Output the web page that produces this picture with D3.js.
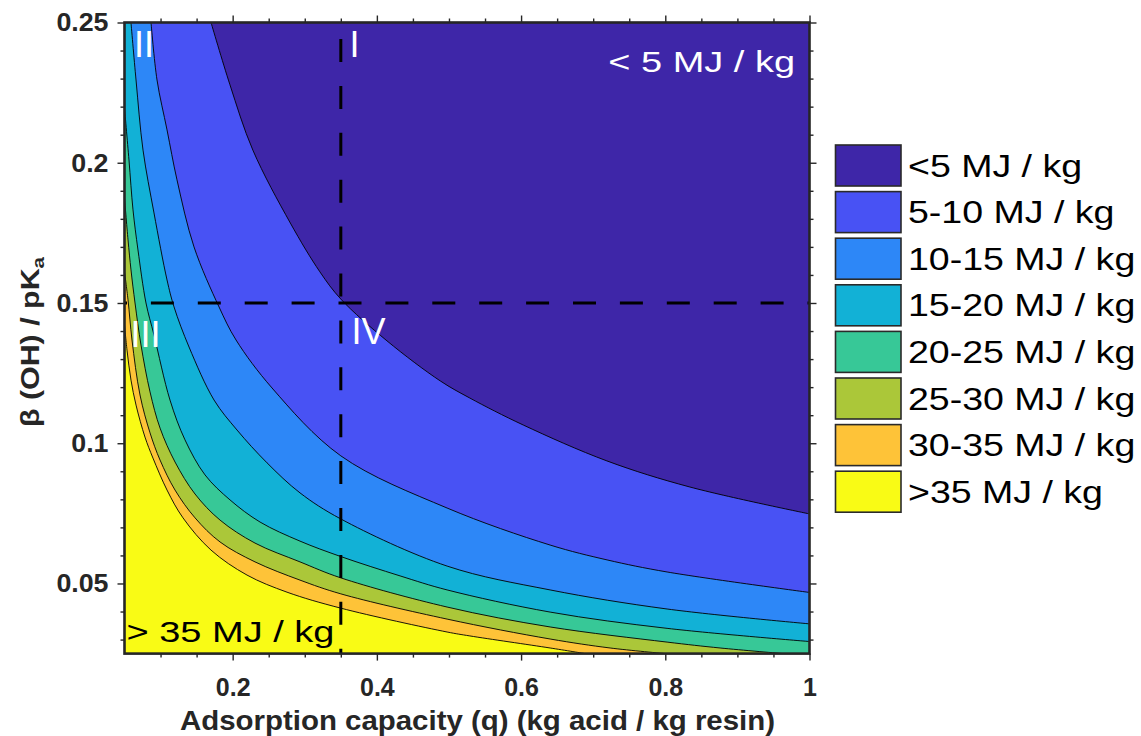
<!DOCTYPE html>
<html><head><meta charset="utf-8">
<script src="https://cdn.jsdelivr.net/npm/d3@7"></script>
<style>body{margin:0;background:#fff;} svg{display:block;font-family:"Liberation Sans",Arial,sans-serif;}</style>
</head><body><svg id="chart" width="1141" height="736"></svg>
<script>
// ---- data ----
const categories = ["<5 MJ / kg","5-10 MJ / kg","10-15 MJ / kg","15-20 MJ / kg","20-25 MJ / kg","25-30 MJ / kg","30-35 MJ / kg",">35 MJ / kg"];
const colors = ["#3e26a8","#4852f4","#2d87f7","#12b1d6","#37c897","#abc739","#fec338","#f9fb15"];
const levels = [5,10,15,20,25,30,35];
// contour boundaries: q (kg acid / kg resin) and beta/pKa
const b5q  = [0.170,0.196,0.228,0.280,0.321,0.350,0.414,0.488,0.529,0.603,0.719,0.834,1.000];
const b5b  = [0.250,0.228,0.2045,0.1785,0.1611,0.1514,0.1365,0.1222,0.1161,0.1065,0.0937,0.0844,0.0748];
const b10q = [0.0868,0.0951,0.109,0.1228,0.1464,0.1811,0.2047,0.2546,0.350,0.4974,0.6403,0.7193,0.8025,1.000];
const b10b = [0.250,0.2295,0.2117,0.1939,0.170,0.1486,0.1368,0.1197,0.0955,0.0769,0.0637,0.0584,0.0541,0.0468];
const b15q = [0.059,0.066,0.0757,0.0909,0.109,0.1187,0.1395,0.1742,0.2061,0.2477,0.2934,0.350,0.4974,0.6403,0.8025,1.000];
const b15b = [0.250,0.2295,0.2045,0.1821,0.1582,0.1486,0.1343,0.1154,0.1047,0.093,0.0823,0.073,0.0562,0.0477,0.0409,0.0356];
const b20q = [0.050,0.0562,0.0618,0.0687,0.0798,0.0909,0.1131,0.1339,0.1617,0.1963,0.238,0.2934,0.350,0.4322,0.4974,0.6403,0.8025,1.000];
const b20b = [0.2195,0.201,0.1832,0.1689,0.150,0.1386,0.1154,0.1012,0.0887,0.0798,0.0719,0.0651,0.0596,0.0527,0.0477,0.0398,0.034,0.0293];
const b25q = [0.050,0.0549,0.059,0.0646,0.0729,0.0854,0.0993,0.1201,0.1478,0.1825,0.231,0.2934,0.350,0.4974,0.6403,0.8025,0.876,0.9634];
const b25b = [0.1874,0.1725,0.1618,0.150,0.135,0.1183,0.1054,0.0933,0.0819,0.0726,0.0644,0.0577,0.052,0.0416,0.0345,0.0291,0.027,0.025];
const b30q = [0.050,0.0549,0.0604,0.0715,0.0854,0.0993,0.1201,0.1478,0.1825,0.231,0.2934,0.350,0.4974,0.6403,0.7235,0.7998];
const b30b = [0.1611,0.1511,0.1368,0.1172,0.1037,0.094,0.0833,0.0734,0.0648,0.0577,0.0512,0.0463,0.0373,0.0302,0.027,0.025];
const b35q = [0.050,0.0535,0.059,0.066,0.0784,0.0895,0.109,0.1311,0.170,0.2199,0.2754,0.350,0.4974,0.529,0.6403,0.6888];
const b35b = [0.1422,0.1332,0.1225,0.1136,0.1022,0.0947,0.0833,0.0734,0.0619,0.053,0.0469,0.0412,0.0327,0.0313,0.027,0.025];
const xMajorTicks = [0.2,0.4,0.6,0.8,1];
const xMinorTicks = [0.1,0.15,0.25,0.3,0.35,0.45,0.5,0.55,0.65,0.7,0.75,0.85,0.9,0.95];
const yMajorTicks = [0.05,0.1,0.15,0.2,0.25];
const yMinorTicks = [0.03,0.04,0.06,0.07,0.08,0.09,0.11,0.12,0.13,0.14,0.16,0.17,0.18,0.19,0.21,0.22,0.23,0.24];
const refQ = 0.35, refBeta = 0.15;
const xDomain = [0.05,1], yDomain = [0.025,0.25];

// ---- layout ----
const m = {l:124.5, r:809.5, t:22.5, b:653.6};
const x = d3.scaleLinear().domain(xDomain).range([m.l,m.r]);
const y = d3.scaleLinear().domain(yDomain).range([m.b,m.t]);
const svg = d3.select("#chart");
svg.append("defs").append("clipPath").attr("id","clip").append("rect")
  .attr("x",m.l).attr("y",m.t).attr("width",m.r-m.l).attr("height",m.b-m.t);
const plot = svg.append("g").attr("clip-path","url(#clip)");

const boundaries = [[b5q,b5b],[b10q,b10b],[b15q,b15b],[b20q,b20b],[b25q,b25b],[b30q,b30b],[b35q,b35b]]
  .map(([qs,bs],i)=>({level:levels[i], pts: qs.map((q,j)=>[q,bs[j]])}));
const line = d3.line().x(d=>x(d[0])).y(d=>y(d[1])).curve(d3.curveCatmullRom.alpha(0.5));
const E = 6;
function regionPath(pts){
  let p = line(pts);
  const first = pts[0], last = pts[pts.length-1];
  if (Math.abs(last[1]-yDomain[0])<1e-9) p += `L${x(last[0])},${m.b+E}L${m.r+E},${m.b+E}`;
  else p += `L${m.r+E},${y(last[1])}`;
  p += `L${m.r+E},${m.t-E}`;
  if (Math.abs(first[0]-xDomain[0])<1e-9) p += `L${m.l-E},${m.t-E}L${m.l-E},${y(first[1])}`;
  else p += `L${x(first[0])},${m.t-E}`;
  return p+"Z";
}
plot.append("rect").attr("x",m.l-E).attr("y",m.t-E).attr("width",m.r-m.l+2*E).attr("height",m.b-m.t+2*E).attr("fill",colors[7]);
for (let i=boundaries.length-1;i>=0;i--){
  plot.append("path").attr("d",regionPath(boundaries[i].pts)).attr("fill",colors[i]);
}
boundaries.forEach(bd=>{
  plot.append("path").attr("d",line(bd.pts)).attr("fill","none").attr("stroke","#000").attr("stroke-width",0.9);
});
// dashed reference lines
plot.append("line").attr("x1",x(refQ)).attr("x2",x(refQ)).attr("y1",y(yDomain[1])).attr("y2",y(yDomain[0]))
  .attr("stroke","#000").attr("stroke-width",3).attr("stroke-dasharray","23,23.9").attr("stroke-dashoffset",30.4);
plot.append("line").attr("x1",x(xDomain[0])).attr("x2",x(xDomain[1])).attr("y1",y(refBeta)).attr("y2",y(refBeta))
  .attr("stroke","#000").attr("stroke-width",3).attr("stroke-dasharray","23,23.9").attr("stroke-dashoffset",20.5);

function stretch(sel,f){ sel.each(function(){ const w=this.getComputedTextLength(); this.setAttribute("textLength",w*f); this.setAttribute("lengthAdjust","spacingAndGlyphs"); }); }

// region labels
const numerals = [["I",349.5,56.7],["II",134,56.7],["III",130.5,346.7],["IV",351.5,344]];
numerals.forEach(([t,px,py])=>{
  svg.append("text").attr("x",px).attr("y",py).attr("fill","#fff").style("font-size","36px").text(t);
});
stretch(svg.append("text").attr("x",795).attr("y",71.7).attr("text-anchor","end").attr("fill","#fff").style("font-size","30px").text("< 5 MJ / kg"),1.265);
stretch(svg.append("text").attr("x",126.5).attr("y",641.7).attr("fill","#000").style("font-size","30px").text("> 35 MJ / kg"),1.266);

// frame
svg.append("rect").attr("x",m.l).attr("y",m.t).attr("width",m.r-m.l).attr("height",m.b-m.t)
  .attr("fill","none").attr("stroke","#262626").attr("stroke-width",2.6);

// axes
const tc = "#262626";
function styleAxis(g){ g.select(".domain").remove(); g.selectAll("line").attr("stroke",tc).attr("stroke-width",1.4);
  g.selectAll("text").attr("fill",tc).style("font-size","26px").style("font-weight","bold").style("font-family","'Liberation Sans',Arial,sans-serif"); }
const fmt = d3.format("~g");
const gxb = svg.append("g").attr("transform",`translate(0,${m.b})`).call(d3.axisBottom(x).tickValues(xMajorTicks).tickSize(7).tickPadding(17).tickFormat(fmt)).call(styleAxis);
svg.append("g").attr("transform",`translate(0,${m.b})`).call(d3.axisBottom(x).tickValues(xMinorTicks).tickSize(4).tickFormat("")).call(styleAxis);
svg.append("g").attr("transform",`translate(0,${m.t})`).call(d3.axisTop(x).tickValues(xMajorTicks).tickSize(7).tickFormat("")).call(styleAxis);
svg.append("g").attr("transform",`translate(0,${m.t})`).call(d3.axisTop(x).tickValues(xMinorTicks).tickSize(4).tickFormat("")).call(styleAxis);
const gyl = svg.append("g").attr("transform",`translate(${m.l},0)`).call(d3.axisLeft(y).tickValues(yMajorTicks).tickSize(7).tickPadding(9).tickFormat(fmt)).call(styleAxis);
svg.append("g").attr("transform",`translate(${m.l},0)`).call(d3.axisLeft(y).tickValues(yMinorTicks).tickSize(4).tickFormat("")).call(styleAxis);
svg.append("g").attr("transform",`translate(${m.r},0)`).call(d3.axisRight(y).tickValues(yMajorTicks).tickSize(7).tickFormat("")).call(styleAxis);
svg.append("g").attr("transform",`translate(${m.r},0)`).call(d3.axisRight(y).tickValues(yMinorTicks).tickSize(4).tickFormat("")).call(styleAxis);
stretch(gxb.selectAll("text"),0.96);
stretch(gyl.selectAll("text"),1.03);

// axis titles
svg.append("text").attr("x",180).attr("y",730).attr("fill",tc).style("font-size","28px").style("font-weight","bold")
  .attr("textLength",595).attr("lengthAdjust","spacingAndGlyphs").text("Adsorption capacity (q) (kg acid / kg resin)");
const yt = svg.append("g").attr("transform","translate(39,342) rotate(-90)");
const ytt = yt.append("text").attr("text-anchor","middle").attr("fill",tc).style("font-size","25px").style("font-weight","bold");
ytt.append("tspan").text("β (OH) / pK");
ytt.append("tspan").attr("dy","0.3em").style("font-size","17px").text("a");
const bw = ytt.node().getBBox().width;
ytt.attr("transform",`scale(${171/bw},1)`);

// legend
const lg = svg.append("g");
categories.forEach((c,i)=>{
  const ty = 145 + i*46.6;
  lg.append("rect").attr("x",835.5).attr("y",ty).attr("width",65.5).attr("height",41).attr("fill",colors[i]).attr("stroke","#2a2a2a").attr("stroke-width",1.6);
  const t = lg.append("text").attr("x",908).attr("y",ty+20.5+11).attr("fill","#000").style("font-size","31px").text(c);
  stretch(t,1.21);
});
</script></body></html>
